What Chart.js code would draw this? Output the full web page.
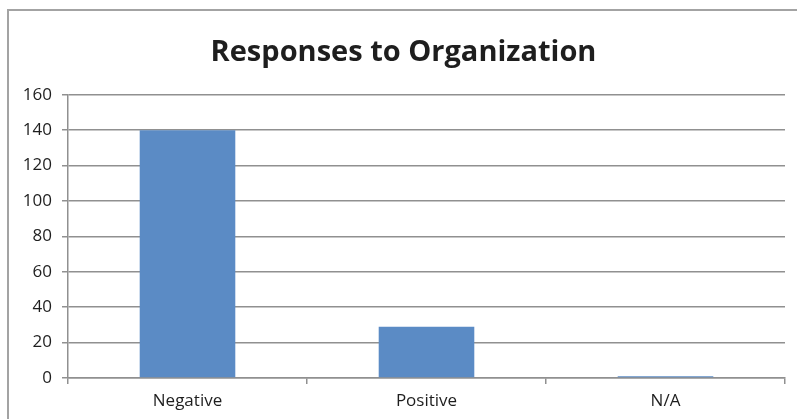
<!DOCTYPE html>
<html>
<head>
<meta charset="utf-8">
<script src="https://cdn.jsdelivr.net/npm/chart.js@4/dist/chart.umd.min.js"></script>
<style>
  html, body { margin: 0; padding: 0; background: #fff; overflow: hidden; }
  #frame {
    position: absolute; left: 7px; top: 9px; width: 800px; height: 420px;
    border: 2px solid #a3a3a3; box-sizing: border-box;
  }
  #chart { position: absolute; left: 0; top: 0; }
</style>
</head>
<body>
<div id="frame"></div>
<canvas id="chart" width="797" height="419"></canvas>
<script>
// Responses chart data
const categories = ['Negative', 'Positive', 'N/A'];
const counts = [140, 29, 1];
const yMin = 0;
const yMax = 160;
const yStep = 20;

const gridGrey = '#909090';
const textCol = '#1e1e1e';
const fam = "'Open Sans', 'Noto Sans', sans-serif";

new Chart(document.getElementById('chart').getContext('2d'), {
  type: 'bar',
  data: {
    labels: categories,
    datasets: [{
      label: 'Responses',
      data: counts,
      backgroundColor: '#5b8bc5',
      borderWidth: 0,
      categoryPercentage: 1,
      barPercentage: 0.4
    }]
  },
  options: {
    responsive: false,
    animation: false,
    layout: {padding: {left: 22, right: 12, top: 0, bottom: 0}},
    plugins: {
      legend: {display: false},
      tooltip: {enabled: false},
      title: {
        display: true,
        text: 'Responses to Organization',
        color: textCol,
        font: {family: fam, size: 29, weight: 'bold', lineHeight: 1.2},
        padding: {top: 35, bottom: 25}
      }
    },
    scales: {
      x: {
        offset: true,
        grid: {
          offset: true,
          drawOnChartArea: false,
          drawTicks: true,
          tickLength: 6,
          color: gridGrey,
          lineWidth: 1.5
        },
        border: {color: gridGrey, width: 1.5},
        ticks: {
          color: textCol,
          font: {family: fam, size: 17},
          padding: 7,
          maxRotation: 0
        },
        afterFit: s => { s.height = 41; }
      },
      y: {
        min: yMin,
        max: yMax,
        grid: {color: gridGrey, lineWidth: 1.5, tickLength: 6},
        border: {color: gridGrey, width: 1.5},
        ticks: {
          stepSize: yStep,
          color: textCol,
          font: {family: fam, size: 17},
          padding: 10
        },
        afterFit: s => { s.width = 46; }
      }
    }
  }
});
</script>
</body>
</html>
